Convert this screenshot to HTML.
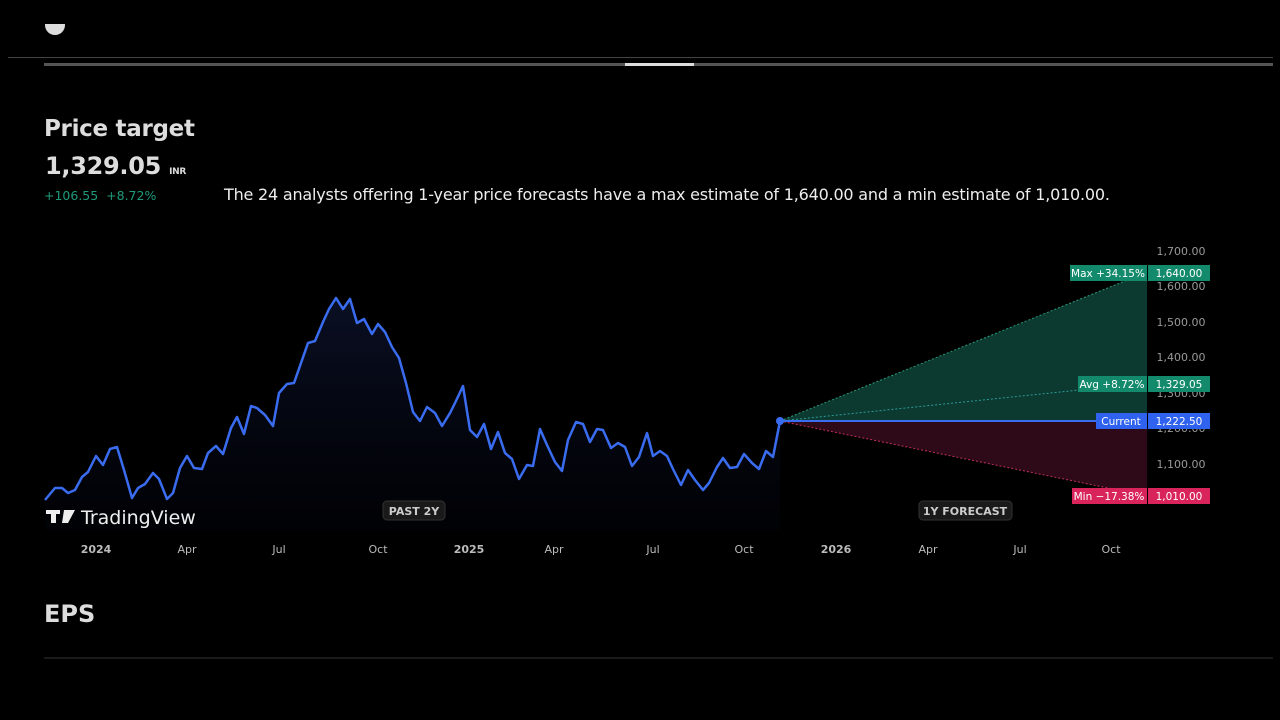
<!DOCTYPE html><html><head><style>
body{margin:0;width:1280px;height:720px;background:#000;overflow:hidden;font-family:"DejaVu Sans","Liberation Sans",sans-serif;color:#ddd;position:relative}
.a{position:absolute}
</style></head><body>
<div class="a" style="left:8px;top:57px;width:1265px;height:1px;background:#444"></div>
<div class="a" style="left:44px;top:63px;width:1229px;height:3px;background:#555"></div>
<div class="a" style="left:625px;top:63px;width:69px;height:3px;background:#ddd"></div>
<div class="a" style="left:45px;top:24px;width:20px;height:11px;background:#ddd;border-radius:0 0 10px 10px"></div>
<div class="a" style="left:44px;top:116px;font-size:23px;font-weight:bold;color:#ddd;letter-spacing:-0.3px">Price target</div>
<div class="a" style="left:45px;top:152px;font-size:24px;font-weight:bold;color:#ddd;letter-spacing:-0.3px">1,329.05 <span style="font-size:9px">INR</span></div>
<div class="a" style="left:44px;top:188px;font-size:12.5px;color:#1f9a7a">+106.55&nbsp; +8.72%</div>
<div class="a" style="left:224px;top:185px;font-size:16px;color:#eee;letter-spacing:-0.2px">The 24 analysts offering 1-year price forecasts have a max estimate of 1,640.00 and a min estimate of 1,010.00.</div>
<svg class="a" style="left:0;top:0" width="1280" height="720">
<defs><linearGradient id="g" x1="0" y1="0" x2="0" y2="1"><stop offset="0" stop-color="#16224f" stop-opacity=".45"/><stop offset="1" stop-color="#0a1030" stop-opacity=".1"/></linearGradient></defs>
<polygon fill="#0d3a30" points="780,421 1147,272 1147,421"/>
<polygon fill="#2e0a18" points="780,421 1147,421 1147,496"/>
<line x1="780" y1="421" x2="1147" y2="272" stroke="#2a9a7a" stroke-dasharray="2,2"/>
<line x1="780" y1="421" x2="1147" y2="383" stroke="#2a9a9a" stroke-dasharray="2,2"/>
<line x1="780" y1="421" x2="1147" y2="496" stroke="#c0305a" stroke-dasharray="2,2"/>
<line x1="780" y1="421" x2="1147" y2="421" stroke="#3a6cf0" stroke-width="2"/>
<polygon fill="url(#g)" points="45,530 45,500 55,488 62,488 68,493 75,490 82,477 88,472 96,456 103,465 110,449 117,447 124,470 132,498 138,488 145,484 153,473 159,479 167,499 173,493 180,468 187,456 194,468 202,469 208,453 216,446 223,454 231,428 237,417 244,434 251,406 257,408 265,415 273,426 279,393 287,384 294,383 301,363 308,343 315,341 323,322 329,309 336,298 343,309 350,299 357,323 364,319 372,334 378,324 385,332 392,347 399,358 406,383 413,412 420,421 427,407 435,413 442,426 450,413 455,403 463,386 470,430 477,437 484,424 491,449 498,432 505,453 512,459 519,479 527,465 533,466 540,429 547,445 555,462 562,471 568,440 576,422 583,424 590,442 597,429 603,430 611,448 618,443 625,447 632,466 639,457 647,433 653,456 660,451 667,456 673,469 681,485 688,470 695,480 703,490 709,483 717,467 723,458 730,468 737,467 744,454 752,463 759,469 766,451 773,457 780,421 780,530"/>
<polyline fill="none" stroke="#3a6cf0" stroke-width="2.5" stroke-linejoin="round" points="45,500 55,488 62,488 68,493 75,490 82,477 88,472 96,456 103,465 110,449 117,447 124,470 132,498 138,488 145,484 153,473 159,479 167,499 173,493 180,468 187,456 194,468 202,469 208,453 216,446 223,454 231,428 237,417 244,434 251,406 257,408 265,415 273,426 279,393 287,384 294,383 301,363 308,343 315,341 323,322 329,309 336,298 343,309 350,299 357,323 364,319 372,334 378,324 385,332 392,347 399,358 406,383 413,412 420,421 427,407 435,413 442,426 450,413 455,403 463,386 470,430 477,437 484,424 491,449 498,432 505,453 512,459 519,479 527,465 533,466 540,429 547,445 555,462 562,471 568,440 576,422 583,424 590,442 597,429 603,430 611,448 618,443 625,447 632,466 639,457 647,433 653,456 660,451 667,456 673,469 681,485 688,470 695,480 703,490 709,483 717,467 723,458 730,468 737,467 744,454 752,463 759,469 766,451 773,457 780,421"/>
<circle cx="780" cy="421" r="4" fill="#3a6cf0"/>
<g font-size="11" fill="#999" text-anchor="middle">
<text x="1181" y="255">1,700.00</text><text x="1181" y="290">1,600.00</text><text x="1181" y="326">1,500.00</text><text x="1181" y="361">1,400.00</text><text x="1181" y="397">1,300.00</text><text x="1181" y="432">1,200.00</text><text x="1181" y="468">1,100.00</text>
</g>
<rect x="1070" y="265" width="77" height="16" fill="#138a6c"/><rect x="1148" y="265" width="62" height="16" fill="#138a6c"/>
<rect x="1078" y="376" width="69" height="16" fill="#138a6c"/><rect x="1148" y="376" width="62" height="16" fill="#138a6c"/>
<rect x="1096" y="413" width="51" height="16" fill="#2f62ee"/><rect x="1148" y="413" width="62" height="16" fill="#2f62ee"/>
<rect x="1072" y="488" width="75" height="16" fill="#d8245a"/><rect x="1148" y="488" width="62" height="16" fill="#d8245a"/>
<g font-size="10.5" fill="#fff" text-anchor="middle">
<text x="1108" y="277">Max +34.15%</text><text x="1179" y="277">1,640.00</text>
<text x="1112" y="388">Avg +8.72%</text><text x="1179" y="388">1,329.05</text>
<text x="1121" y="425">Current</text><text x="1179" y="425">1,222.50</text>
<text x="1109" y="500">Min −17.38%</text><text x="1179" y="500">1,010.00</text>
</g>
<rect x="383" y="501" width="62" height="19" rx="4" fill="#1a1a1a" stroke="#333"/>
<text x="414" y="515" font-size="11" font-weight="bold" fill="#ccc" text-anchor="middle">PAST 2Y</text>
<rect x="919" y="501" width="93" height="19" rx="4" fill="#1a1a1a" stroke="#333"/>
<text x="965" y="515" font-size="11" font-weight="bold" fill="#ccc" text-anchor="middle">1Y FORECAST</text>
<g font-size="11" fill="#bbb" text-anchor="middle">
<text x="96" y="553" font-weight="bold">2024</text><text x="187" y="553">Apr</text><text x="279" y="553">Jul</text><text x="378" y="553">Oct</text><text x="469" y="553" font-weight="bold">2025</text><text x="554" y="553">Apr</text><text x="653" y="553">Jul</text><text x="744" y="553">Oct</text><text x="836" y="553" font-weight="bold">2026</text><text x="928" y="553">Apr</text><text x="1020" y="553">Jul</text><text x="1111" y="553">Oct</text>
</g>
<rect x="46" y="510" width="14" height="4" fill="#eee"/><rect x="51" y="510" width="5" height="13" fill="#eee"/><polygon points="64,510 75,510 68,523 62,523" fill="#eee"/>
<text x="81" y="524" font-size="19" fill="#eee">TradingView</text>
<line x1="44" y1="658" x2="1273" y2="658" stroke="#333"/>
</svg>
<div class="a" style="left:44px;top:600px;font-size:24px;font-weight:bold;color:#ddd">EPS</div>
</body></html>
